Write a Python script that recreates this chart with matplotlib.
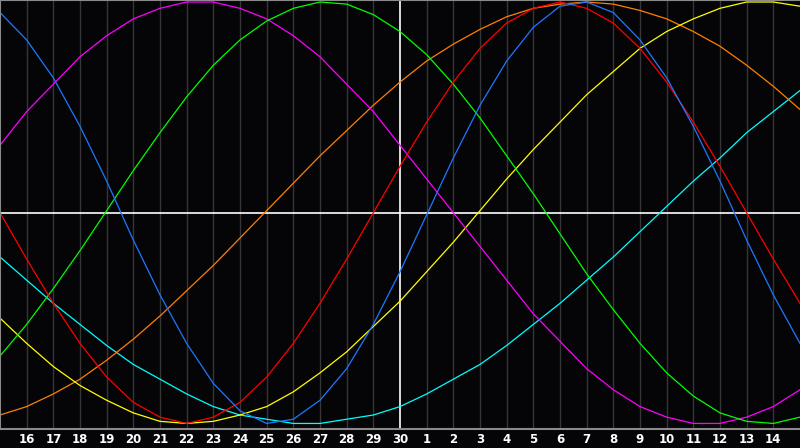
"""Biorhythm chart: seven cycles over a 30 day window centred on the 30th."""

import matplotlib
matplotlib.use("Agg")
from matplotlib import pyplot as plt

# day labels, one per grid column (x = 1 .. 29)
day_labels = [str(d) for d in range(16, 31)] + [str(d) for d in range(1, 15)]

# cycle values, one per day from x = 0 to x = 30
blue = [0.95, 0.82, 0.64, 0.41, 0.15, -0.13, -0.39, -0.62, -0.81, -0.94, -1.00,
        -0.98, -0.89, -0.74, -0.53, -0.28, -0.01, 0.26, 0.51, 0.72, 0.88, 0.98,
        1.00, 0.95, 0.82, 0.64, 0.41, 0.15, -0.13, -0.39, -0.62]
red = [0.00, -0.22, -0.43, -0.62, -0.78, -0.90, -0.97, -1.00, -0.97, -0.90, -0.78,
       -0.62, -0.43, -0.22, 0.00, 0.22, 0.43, 0.62, 0.78, 0.90, 0.97, 1.00,
       0.97, 0.90, 0.78, 0.62, 0.43, 0.22, 0.00, -0.22, -0.43]
green = [-0.68, -0.53, -0.36, -0.18, 0.01, 0.20, 0.38, 0.55, 0.70, 0.82, 0.91,
         0.97, 1.00, 0.99, 0.94, 0.86, 0.75, 0.61, 0.45, 0.27, 0.09, -0.10,
         -0.29, -0.46, -0.62, -0.76, -0.87, -0.95, -0.99, -1.00, -0.97]
magenta = [0.32, 0.48, 0.61, 0.74, 0.84, 0.92, 0.97, 1.00, 1.00, 0.97, 0.92,
           0.84, 0.74, 0.61, 0.48, 0.32, 0.16, 0.00, -0.16, -0.32, -0.48, -0.61,
           -0.74, -0.84, -0.92, -0.97, -1.00, -1.00, -0.97, -0.92, -0.84]
yellow = [-0.50, -0.62, -0.73, -0.82, -0.89, -0.95, -0.99, -1.00, -0.99, -0.96,
          -0.92, -0.85, -0.76, -0.66, -0.54, -0.42, -0.28, -0.14, 0.01, 0.16,
          0.30, 0.43, 0.56, 0.67, 0.78, 0.86, 0.92, 0.97, 1.00, 1.00, 0.98]
orange = [-0.96, -0.92, -0.86, -0.79, -0.70, -0.60, -0.49, -0.37, -0.25, -0.12,
          0.01, 0.14, 0.27, 0.39, 0.51, 0.62, 0.72, 0.80, 0.87, 0.93, 0.97,
          0.99, 1.00, 0.99, 0.96, 0.92, 0.86, 0.79, 0.70, 0.60, 0.49]
cyan = [-0.21, -0.32, -0.43, -0.53, -0.63, -0.72, -0.79, -0.86, -0.92, -0.96,
        -0.98, -1.00, -1.00, -0.98, -0.96, -0.92, -0.86, -0.79, -0.72, -0.63,
        -0.53, -0.43, -0.32, -0.21, -0.09, 0.03, 0.15, 0.26, 0.38, 0.48, 0.58]

series = [
    (cyan, "#00ffff"),
    (orange, "#ff8000"),
    (yellow, "#ffff00"),
    (magenta, "#ff00ff"),
    (green, "#00ff00"),
    (red, "#ff0000"),
    (blue, "#1e78ff"),
]

BG = "#050508"


def main():
    fig = plt.figure(figsize=(8, 4.48), dpi=100, facecolor=BG)
    ax = fig.add_axes([0, 19.5 / 448, 1, 428.5 / 448], facecolor=BG)
    ax.set_xlim(0, 30)
    ax.set_ylim(-1.024, 1.0095)

    for x in range(1, 30):
        if x != 15:
            ax.axvline(x, color="#363636", lw=1)
    ax.axvline(15, color="white", lw=1.2)
    ax.axhline(0, color="white", lw=1.2)

    days = list(range(len(blue)))
    for values, color in series:
        ax.plot(days, values, color=color, lw=0.9)

    ax.set_yticks([])
    ax.set_xticks(range(1, 30))
    ax.set_xticklabels(day_labels, color="white", fontsize=8.5,
                       fontweight="bold", family="DejaVu Sans")
    ax.tick_params(axis="x", length=0, pad=3.5)
    for spine in ax.spines.values():
        spine.set_color("#8a8a8a")
        spine.set_linewidth(1.5)
    ax.spines["right"].set_visible(False)

    fig.savefig("out.png", facecolor=BG)


if __name__ == "__main__":
    main()
